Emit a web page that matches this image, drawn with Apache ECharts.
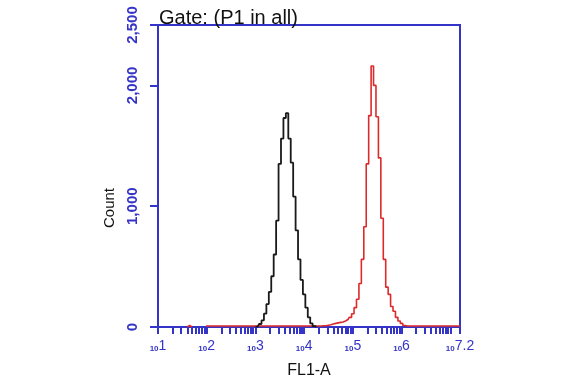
<!DOCTYPE html>
<html><head><meta charset="utf-8">
<script src="https://cdn.jsdelivr.net/npm/echarts@6/dist/echarts.min.js"></script>
<style>html,body{margin:0;padding:0;background:#fff}#c{width:582px;height:378px}</style>
</head><body><div id="c"></div>
<script>
// Black histogram (log10 of FL1-A, counts)
const blackLog = [3.00,3.05,3.10,3.15,3.20,3.25,3.30,3.35,3.40,3.45,3.50,3.55,3.60,3.65,3.70,3.75,3.80,3.85,3.90,3.95,4.00,4.05,4.10,4.15,4.20,4.25];
const blackCount = [0,5,25,55,110,190,290,420,600,880,1350,1560,1730,1770,1560,1360,1080,800,560,390,270,160,80,30,8,0];
// Red histogram
const redLog = [1.60,1.65,1.70,1.72,
  2.25,2.60,3.00,3.50,4.00,4.25,
  4.30,4.35,4.40,4.45,4.50,4.55,4.60,4.65,4.70,4.75,4.80,4.85,4.90,4.95,5.00,5.05,5.10,5.15,5.20,5.25,5.30,5.35,5.40,5.45,5.50,5.55,5.60,5.65,5.70,5.75,5.80,5.85,5.90,5.95,6.00,6.05,6.10,6.15,
  6.30,6.60,6.90,7.20];
const redCount = [0,12,0,null,
  8,8,8,8,8,8,
  8,8,10,10,14,18,25,30,34,38,42,50,62,80,110,160,230,360,560,830,1350,1750,2160,2000,1740,1400,900,560,330,270,170,130,80,50,30,12,8,8,
  8,8,8,8];
const xLabelExps = [1,2,3,4,5,6,7.2];
const yTickValues = [0,1000,2000,2500];

const BLUE = '#3434c8';
const xTickValues = [];
for (let d = 1; d <= 6; d++) for (let k = 1; k <= 9; k++) xTickValues.push(d + Math.log10(k));
xTickValues.push(7, 7.2);

const chart = echarts.init(document.getElementById('c'), null, {renderer:'canvas'});
chart.setOption({
  animation: false,
  grid: {left:158, right:122, top:25, bottom:51, outerBoundsMode:'none', containLabel:false,
         show:true, borderColor:BLUE, borderWidth:2, backgroundColor:'transparent'},
  xAxis: {
    type:'value', min:1, max:7.2,
    name:'FL1-A', nameLocation:'middle', nameGap:36,
    nameTextStyle:{fontFamily:'Liberation Sans, Arial', fontSize:16, color:'#111'},
    axisLine:{show:true, lineStyle:{color:BLUE, width:2}},
    axisTick:{show:true, customValues:xTickValues, length:7, lineStyle:{color:BLUE, width:2}},
    splitLine:{show:false},
    axisLabel:{
      customValues:xLabelExps, margin:12, color:BLUE,
      formatter: v => '{a|10}{b|' + (Math.round(v*10)/10) + '}',
      rich:{
        a:{fontSize:8, fontWeight:'bold', color:BLUE, fontFamily:'Liberation Sans, Arial', verticalAlign:'bottom', padding:[4,0,0,0]},
        b:{fontSize:14, color:BLUE, fontFamily:'Liberation Sans, Arial', verticalAlign:'bottom'}
      }
    }
  },
  yAxis: {
    type:'value', min:0, max:2500,
    axisLine:{show:true, lineStyle:{color:BLUE, width:2}},
    axisTick:{show:true, customValues:yTickValues, length:8, lineStyle:{color:BLUE, width:2}},
    splitLine:{show:false},
    axisLabel:{
      customValues:yTickValues, rotate:90, margin:18, color:BLUE,
      fontSize:15, fontWeight:'bold', fontFamily:'Liberation Sans, Arial',
      formatter: v => v.toLocaleString('en-US')
    }
  },
  graphic: [
    {type:'text', left:159, top:8, style:{text:'Gate: (P1 in all)', font:'20px "Liberation Sans", Arial', fill:'#111'}, z:10},
    {type:'text', x:110, y:208, rotation:Math.PI/2, style:{text:'Count', font:'15px "Liberation Sans", Arial', fill:'#111', align:'center', verticalAlign:'middle'}}
  ],
  series: [
    {type:'line', step:'middle', symbol:'none', connectNulls:false,
     data: redLog.map((x,i)=>[x, redCount[i]]),
     lineStyle:{color:'#dd2a2a', width:1.6}, z:3},
    {type:'line', step:'middle', symbol:'none',
     data: blackLog.map((x,i)=>[x, blackCount[i]]),
     lineStyle:{color:'#1a1a1a', width:1.8}, z:4}
  ]
});
</script></body></html>
